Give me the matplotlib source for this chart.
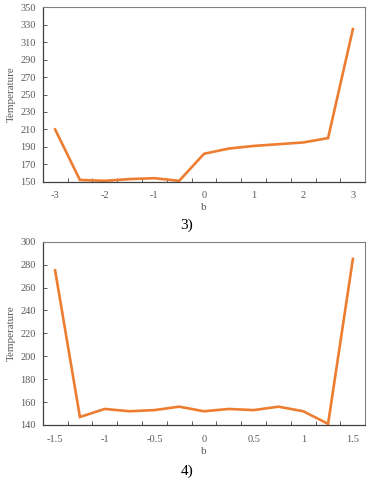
import matplotlib
matplotlib.use("Agg")
import matplotlib.pyplot as plt

# Top chart (3)
b_top = [-3, -2.5, -2, -1.5, -1, -0.5, 0, 0.5, 1, 1.5, 2, 2.5, 3]
temp_top = [210, 152, 151, 153, 154, 151, 182, 188, 191, 193, 195, 200, 325]
top_labels = ["-3", "", "-2", "", "-1", "", "0", "", "1", "", "2", "", "3"]
top_yticks = [150, 170, 190, 210, 230, 250, 270, 290, 310, 330, 350]

# Bottom chart (4)
b_bot = [-1.5, -1.25, -1, -0.75, -0.5, -0.25, 0, 0.25, 0.5, 0.75, 1, 1.25, 1.5]
temp_bot = [275, 147, 154, 152, 153, 156, 152, 154, 153, 156, 152, 141, 285]
bot_labels = ["-1.5", "", "-1", "", "-0.5", "", "0", "", "0.5", "", "1", "", "1.5"]
bot_yticks = [140, 160, 180, 200, 220, 240, 260, 280, 300]

plt.rcParams['font.family'] = ['Liberation Serif', 'DejaVu Serif']

W, H = 373, 480
fig = plt.figure(figsize=(W / 100, H / 100), dpi=100)

ORANGE = "#ED7D31"
GRAY = "#595959"


def make(ax, xs, ys, labels, yticks, sub):
    idx = list(range(len(xs)))
    ax.plot(idx, ys, color=ORANGE, lw=1.9, solid_joinstyle='miter')
    ax.set_xlim(-0.5, len(xs) - 0.5)
    ax.set_ylim(yticks[0], yticks[-1])
    ax.set_yticks(yticks)
    ax.set_yticklabels([str(v) for v in yticks])
    ax.set_xticks(idx)
    ax.set_xticklabels(labels)
    ax.set_xticks([i + 0.5 for i in idx[:-1]], minor=True)
    ax.tick_params(axis='x', which='major', length=0, pad=7, labelsize=7.5, labelcolor=GRAY)
    ax.tick_params(axis='x', which='minor', direction='in', length=3, width=0.7, color=GRAY)
    ax.tick_params(axis='y', which='major', direction='in', length=3, width=0.7, color=GRAY,
                   labelsize=7.5, labelcolor=GRAY, pad=5)
    for s in ['left', 'bottom']:
        ax.spines[s].set_color('#404040')
        ax.spines[s].set_linewidth(0.9)
    for s in ['top', 'right']:
        ax.spines[s].set_color('#808080')
        ax.spines[s].set_linewidth(0.8)
    ax.set_ylabel("Temperature", fontsize=8, color=GRAY, labelpad=3)


ax1 = fig.add_axes([42.7 / W, 1 - 181.7 / H, (365.3 - 42.7) / W, (181.7 - 7.3) / H])
make(ax1, b_top, temp_top, top_labels, top_yticks, "3)")
ax2 = fig.add_axes([42.7 / W, 1 - 425 / H, (365.3 - 42.7) / W, (425 - 241.7) / H])
make(ax2, b_bot, temp_bot, bot_labels, bot_yticks, "4)")

fig.text(204 / W, 1 - 207 / H, "b", ha='center', va='center', fontsize=8, color=GRAY)
fig.text(187 / W, 1 - 225 / H, "3)", ha='center', va='center', fontsize=11, color='black')
fig.text(204 / W, 1 - 452 / H, "b", ha='center', va='center', fontsize=8, color=GRAY)
fig.text(187 / W, 1 - 471 / H, "4)", ha='center', va='center', fontsize=11, color='black')

fig.savefig("out.png", dpi=100)
